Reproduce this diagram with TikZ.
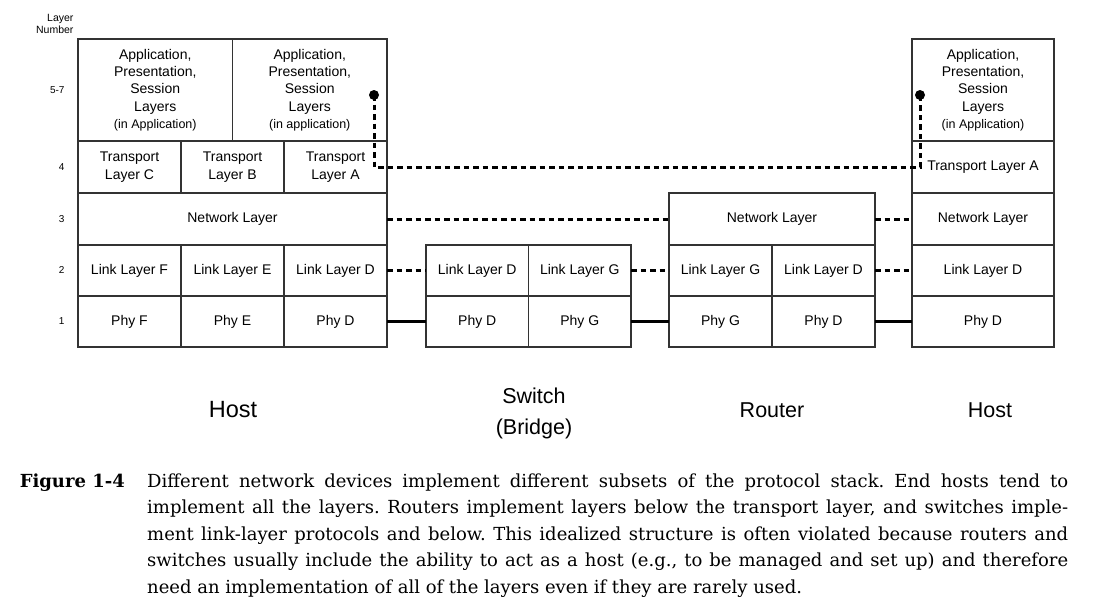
\documentclass[tikz,border=0pt]{standalone}
\usepackage{fontspec}
\newfontfamily\arial{Liberation Sans}
\newfontfamily\capserif{DejaVu Serif}
\usetikzlibrary{positioning}

\tikzset{
	cell/.style={draw=black!80, line width=1.2pt, inner sep=0pt, outer sep=0pt, align=center,
		font=\arial\fontsize{14}{17.3}\selectfont, minimum width=103pt, minimum height=51pt},
	dotline/.style={line width=3pt, dash pattern=on 5.5pt off 4pt},
	wire/.style={line width=3.5pt},
	devlabel/.style={font=\arial\fontsize{21.5}{31}\selectfont, align=center},
	layernum/.style={font=\arial\fontsize{10}{12.5}\selectfont, anchor=east, align=right},
	capline/.style={anchor=base west, inner sep=0pt, font=\capserif\frenchspacing\fontsize{18}{26.5}\selectfont}
}

\newcommand{\appstack}[1]{Application,\\Presentation,\\Session\\Layers\\{\fontsize{12.5}{17.3}\selectfont(in #1)}}

\begin{document}
\begin{tikzpicture}[x=1pt, y=-1pt]
	\useasboundingbox (0,0) rectangle (1102,602);
	
	\node[cell](phyF) at (129.5,321.5){Phy F};
	\node[cell, right = 0pt of phyF](phyE){Phy E};
	\node[cell, right = 0pt of phyE](phyD){Phy D};
	\node[cell, above = 0pt of phyF](lnkF){Link Layer F};
	\node[cell, above = 0pt of phyE](lnkE){Link Layer E};
	\node[cell, above = 0pt of phyD](lnkD){Link Layer D};
	\node[cell, above = 0pt of lnkE, minimum width=309pt, minimum height=52pt](net){Network Layer};
	\node[cell, above = 0pt of net, minimum height=52pt](trB){Transport\\Layer B};
	\node[cell, left = 0pt of trB, minimum height=52pt](trC){Transport\\Layer C};
	\node[cell, right = 0pt of trB, minimum height=52pt](trA){Transport\\Layer A};
	\node[cell, above right = 0pt and 0pt of trC.north west, minimum width=154.5pt, minimum height=102pt](appC){\appstack{Application}};
	\node[cell, above left = 0pt and 0pt of trA.north east, minimum width=154.5pt, minimum height=102pt](appA){\appstack{application}};
	
	\node[cell, minimum width=102.5pt](swPhyD) at (477.25,321.5){Phy D};
	\node[cell, minimum width=102.5pt, right = 0pt of swPhyD](swPhyG){Phy G};
	\node[cell, minimum width=102.5pt, above = 0pt of swPhyD](swLnkD){Link Layer D};
	\node[cell, minimum width=102.5pt, above = 0pt of swPhyG](swLnkG){Link Layer G};
	
	\node[cell](rtPhyG) at (720.5,321.5){Phy G};
	\node[cell, right = 0pt of rtPhyG](rtPhyD){Phy D};
	\node[cell, above = 0pt of rtPhyG](rtLnkG){Link Layer G};
	\node[cell, above = 0pt of rtPhyD](rtLnkD){Link Layer D};
	\node[cell, above right = 0pt and 0pt of rtLnkG.north west, minimum width=206pt, minimum height=52pt](rtNet){Network Layer};
	
	\node[cell, minimum width=142pt](hPhy) at (983,321.5){Phy D};
	\node[cell, minimum width=142pt, above = 0pt of hPhy](hLnk){Link Layer D};
	\node[cell, minimum width=142pt, minimum height=52pt, above = 0pt of hLnk](hNet){Network Layer};
	\node[cell, minimum width=142pt, minimum height=52pt, above = 0pt of hNet](hTr){Transport Layer A};
	\node[cell, minimum width=142pt, minimum height=102pt, above = 0pt of hTr](hApp){\appstack{Application}};
	
	\node[layernum, font=\arial\fontsize{10.5}{12.5}\selectfont](lnum) at (77,24){Layer\\Number};
	\node[layernum](n57) at (68,90){5-7};
	\node[layernum](n4) at (68,167){4};
	\node[layernum](n3) at (68,219){3};
	\node[layernum](n2) at (68,270.5){2};
	\node[layernum](n1) at (68,321.5){1};
	
	\fill (374,95) circle (5pt) coordinate (dotA);
	\fill (920,95) circle (5pt) coordinate (dotB);
	\draw[dotline] (dotA) -- (dotA |- trA) -- (dotB |- trA) -- (dotB);
	\draw[dotline] (net.east) -- (rtNet.west);
	\draw[dotline] (rtNet.east) -- (hNet.west);
	\draw[dotline] (lnkD.east) -- (swLnkD.west);
	\draw[dotline] (swLnkG.east) -- (rtLnkG.west);
	\draw[dotline] (rtLnkD.east) -- (hLnk.west);
	\draw[wire] (phyD.east) -- (swPhyD.west);
	\draw[wire] (swPhyG.east) -- (rtPhyG.west);
	\draw[wire] (rtPhyD.east) -- (hPhy.west);
	
	\node[devlabel, font=\arial\fontsize{23.5}{31}\selectfont](host1) at (233,410){Host};
	\node[devlabel](switch) at (534,413){Switch\\(Bridge)};
	\node[devlabel](router) at (772,410){Router};
	\node[devlabel](host2) at (990,410){Host};
	
	\node[capline, anchor=base east](fig) at (125,487){\bfseries Figure 1-4};
	\node[capline](cap1) at (147,487){\makebox[921pt][s]{Different network devices implement different subsets of the protocol stack. End hosts tend to}};
	\node[capline](cap2) at (147,513.5){\makebox[921pt][s]{implement all the layers. Routers implement layers below the transport layer, and switches imple-}};
	\node[capline](cap3) at (147,540){\makebox[921pt][s]{ment link-layer protocols and below. This idealized structure is often violated because routers and}};
	\node[capline](cap4) at (147,566.5){\makebox[921pt][s]{switches usually include the ability to act as a host (e.g., to be managed and set up) and therefore}};
	\node[capline](cap5) at (147,593){need an implementation of all of the layers even if they are rarely used.};
\end{tikzpicture}
\end{document}
